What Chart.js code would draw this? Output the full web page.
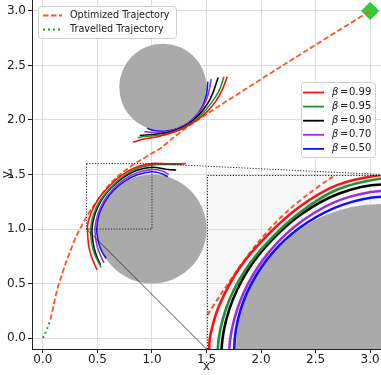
<!DOCTYPE html>
<html>
<head>
<meta charset="utf-8">
<script src="https://cdn.jsdelivr.net/npm/chart.js@4.4.1/dist/chart.umd.min.js"></script>
<style>
html,body{margin:0;padding:0;background:#fff;}
#wrap{position:relative;width:381px;height:375px;overflow:hidden;}
#inset{position:absolute;}
</style>
</head>
<body>
<div id="wrap">
  <canvas id="main" width="381" height="375"></canvas>
  <div id="inset"><canvas id="zoom"></canvas></div>
</div>
<script>
// --- Data ---
const xTicks = [0, 0.5, 1.0, 1.5, 2.0, 2.5, 3.0];
const yTicks = [0, 0.5, 1.0, 1.5, 2.0, 2.5, 3.0];
const betas = ['0.99', '0.95', '0.90', '0.70', '0.50'];
const obstacles = [[1.1, 2.3, 0.4], [1.0, 1.0, 0.5]];   // cx, cy, r
const goal = [[3.0, 3.0]];
const travelled = [[0,0],[0.02,0.04],[0.04,0.09],[0.055,0.13],[0.069,0.17]];
const optimized = [[0.069,0.17],[0.1,0.31],[0.13,0.44],[0.17,0.57],[0.21,0.69],[0.252,0.80],[0.3,0.92],
  [0.35,1.02],[0.4,1.115],[0.459,1.205],[0.517,1.29],[0.574,1.365],[0.631,1.43],[0.688,1.485],[0.75,1.535],
  [0.82,1.585],[0.9,1.635],[1.0,1.695],[1.078,1.74],[1.2,1.84],[1.35,1.955],[2.2,2.5],[3.0,3.0]];

// around the lower obstacle
const lowB99 = [[0.497,0.624],[0.447,0.742],[0.42,0.845],[0.408,1.0],[0.412,1.05],[0.442,1.15],[0.513,1.281],
  [0.608,1.392],[0.717,1.489],[0.848,1.565],[1.0,1.6],[1.1,1.6],[1.2,1.598],[1.31,1.6]];
const lowB95 = [[0.534,0.649],[0.479,0.757],[0.451,0.853],[0.437,1.0],[0.467,1.143],[0.531,1.271],[0.62,1.38],
  [0.726,1.475],[0.852,1.551],[1.0,1.588],[1.1,1.592],[1.2,1.592],[1.28,1.592]];
const lowB90 = [[0.528,0.67],[0.488,0.761],[0.463,0.856],[0.45,1.0],[0.478,1.14],[0.538,1.267],[0.624,1.376],
  [0.73,1.468],[0.856,1.536],[1.0,1.567],[1.146,1.546],[1.222,1.541]];
const lowB70 = [[0.56,0.69],[0.52,0.776],[0.492,0.864],[0.477,1.0],[0.503,1.133],[0.558,1.255],[0.638,1.362],
  [0.74,1.45],[0.862,1.515],[1.0,1.545],[1.094,1.532],[1.154,1.5]];
const lowB50 = [[0.58,0.73],[0.544,0.787],[0.512,0.869],[0.494,1.0],[0.514,1.13],[0.567,1.25],[0.646,1.354],
  [0.747,1.437],[0.867,1.497],[1.0,1.525],[1.09,1.507],[1.145,1.48]];

// around the upper obstacle
const upB99 = [[0.827,1.795],[0.87,1.81],[0.925,1.826],[0.98,1.835],[1.048,1.847],[1.17,1.878],[1.29,1.924],
  [1.415,2.0],[1.506,2.076],[1.583,2.168],[1.644,2.275],[1.674,2.352],[1.69,2.397]];
const upB95 = [[0.87,1.838],[0.94,1.85],[1.022,1.857],[1.137,1.872],[1.243,1.907],[1.34,1.958],[1.428,2.025],
  [1.493,2.091],[1.559,2.177],[1.608,2.256],[1.639,2.328],[1.659,2.397]];
const upB90 = [[0.888,1.857],[0.95,1.862],[1.023,1.867],[1.137,1.882],[1.24,1.915],[1.335,1.964],[1.418,2.033],
  [1.475,2.1],[1.53,2.185],[1.569,2.276],[1.607,2.39]];
const upB70 = [[0.931,1.893],[0.98,1.888],[1.026,1.881],[1.136,1.892],[1.239,1.919],[1.332,1.968],[1.41,2.04],
  [1.471,2.127],[1.514,2.227],[1.53,2.3],[1.543,2.376]];
const upB50 = [[0.956,1.924],[1.03,1.901],[1.135,1.899],[1.237,1.922],[1.331,1.971],[1.408,2.042],[1.465,2.13],
  [1.499,2.23],[1.508,2.3],[1.512,2.352]];

const lowCurves = [lowB99, lowB95, lowB90, lowB70, lowB50];
const upCurves = [upB99, upB95, upB90, upB70, upB50];

const zoomBox = [0.4, 1.0, 1.0, 1.6];       // x0, y0, x1, y1 of the marked region
const insetArea = [1.5, -0.1, 3.1, 1.5];    // where the inset sits, in main axes units

// --- Styles ---
const betaColors = ['#ff1010', '#1f9434', '#000000', '#9b30d6', '#1010ff'];
const optColor = '#ff5722';
const travColor = '#2a9a2a';
const FONT = 'DejaVu Sans';

function pts(a){ return a.map(p => ({x: p[0], y: p[1]})); }
function curve(label, data, color, width, dash, order){
  return {label: label, data: pts(data), showLine: true, borderColor: color, backgroundColor: color,
    borderWidth: width, borderDash: dash || [], pointRadius: 0, pointHoverRadius: 0,
    tension: 0.3, fill: false, order: order};
}

// grey obstacles, drawn under the lines
const shapes = {
  id: 'shapes',
  beforeDatasetsDraw(chart){
    const {ctx, chartArea: a, scales: {x, y}} = chart;
    ctx.save();
    ctx.beginPath(); ctx.rect(a.left, a.top, a.right - a.left, a.bottom - a.top); ctx.clip();
    ctx.fillStyle = '#aaaaaa';
    obstacles.forEach(o => {
      const px = x.getPixelForValue(o[0]), py = y.getPixelForValue(o[1]);
      const rx = x.getPixelForValue(o[0] + o[2]) - px, ry = py - y.getPixelForValue(o[1] + o[2]);
      ctx.beginPath(); ctx.ellipse(px, py, rx, ry, 0, 0, Math.PI * 2); ctx.fill();
    });
    ctx.restore();
  }
};

function roundBox(ctx, x, y, w, h, r){
  ctx.beginPath();
  ctx.moveTo(x + r, y); ctx.lineTo(x + w - r, y); ctx.quadraticCurveTo(x + w, y, x + w, y + r);
  ctx.lineTo(x + w, y + h - r); ctx.quadraticCurveTo(x + w, y + h, x + w - r, y + h);
  ctx.lineTo(x + r, y + h); ctx.quadraticCurveTo(x, y + h, x, y + h - r);
  ctx.lineTo(x, y + r); ctx.quadraticCurveTo(x, y, x + r, y);
  ctx.closePath();
}

// zoom marker, connectors and the two legends
const overlay = {
  id: 'overlay',
  afterDraw(chart){
    const {ctx, scales: {x, y}} = chart;
    const ds = chart.data.datasets;
    ctx.save();
    const bx0 = x.getPixelForValue(zoomBox[0]), by0 = y.getPixelForValue(zoomBox[1]);
    const bx1 = x.getPixelForValue(zoomBox[2]), by1 = y.getPixelForValue(zoomBox[3]);
    ctx.strokeStyle = '#222'; ctx.lineWidth = 1; ctx.setLineDash([1.2, 1.6]);
    ctx.strokeRect(bx0, by1, bx1 - bx0, by0 - by1);
    ctx.beginPath(); ctx.moveTo(bx1, by1);
    ctx.lineTo(x.getPixelForValue(insetArea[2]), y.getPixelForValue(insetArea[3])); ctx.stroke();
    ctx.setLineDash([]); ctx.lineWidth = 0.8;
    ctx.beginPath(); ctx.moveTo(bx0, by0);
    ctx.lineTo(x.getPixelForValue(insetArea[0]), y.getPixelForValue(insetArea[1])); ctx.stroke();

    // legend: trajectories
    ctx.lineWidth = 1;
    roundBox(ctx, 38.5, 6.5, 138, 32, 3);
    ctx.fillStyle = 'rgba(255,255,255,0.85)'; ctx.fill();
    ctx.strokeStyle = '#d0d0d0'; ctx.stroke();
    ctx.font = '9.6px "' + FONT + '"'; ctx.textBaseline = 'middle'; ctx.fillStyle = '#222';
    [ds[0], ds[1]].forEach((d, i) => {
      const ry = 15.5 + i * 14;
      ctx.strokeStyle = d.borderColor; ctx.lineWidth = d.borderWidth; ctx.setLineDash(d.borderDash);
      ctx.beginPath(); ctx.moveTo(43, ry); ctx.lineTo(62, ry); ctx.stroke();
      ctx.setLineDash([]);
      ctx.fillText(d.label, 70, ry);
    });

    // legend: beta values
    ctx.lineWidth = 1;
    roundBox(ctx, 301.5, 82.5, 74, 75, 3);
    ctx.fillStyle = 'rgba(255,255,255,0.85)'; ctx.fill();
    ctx.strokeStyle = '#d0d0d0'; ctx.stroke();
    betas.forEach((b, i) => {
      const ry = 92.5 + i * 14.1;
      ctx.strokeStyle = betaColors[i]; ctx.lineWidth = 1.8;
      ctx.beginPath(); ctx.moveTo(303, ry); ctx.lineTo(324, ry); ctx.stroke();
      ctx.fillStyle = '#222';
      ctx.font = 'italic 10px "' + FONT + '"'; ctx.fillText('β', 332, ry);
      ctx.font = '10px "' + FONT + '"';
      ctx.fillText('=', 340, ry); ctx.fillText(b, 349, ry);
    });
    ctx.restore();
  }
};

// --- Main chart ---
const mainSets = [
  curve('Optimized Trajectory', optimized, optColor, 1.8, [5.5, 2.5], 4),
  curve('Travelled Trajectory', travelled, travColor, 2, [2, 3], 3),
  {label: 'Goal', data: pts(goal), pointStyle: 'rectRot', pointRadius: 8.5, pointHoverRadius: 8.5,
   backgroundColor: '#33cc33', borderColor: '#2bb52b', borderWidth: 1, showLine: false, order: 5}
];
lowCurves.forEach((c, i) => mainSets.push(curve('beta ' + betas[i], c, betaColors[i], 1.6, [], 1)));
upCurves.forEach((c, i) => mainSets.push(curve('beta ' + betas[i], c, betaColors[i], 1.6, [], 1)));

const axisFont = {family: FONT, size: 12};
const mainChart = new Chart(document.getElementById('main').getContext('2d'), {
  type: 'scatter',
  data: {datasets: mainSets},
  options: {
    responsive: false, animation: false, devicePixelRatio: 1,
    layout: {padding: 0, autoPadding: false},
    plugins: {legend: {display: false}, tooltip: {enabled: false}},
    scales: {
      x: {
        type: 'linear', min: -0.1, max: 3.1,
        afterBuildTicks: s => { s.ticks = xTicks.map(v => ({value: v})); },
        afterFit: s => { s.height = 26; s.paddingLeft = 0; s.paddingRight = 0; },
        grid: {color: '#dcdcdc', lineWidth: 1, tickColor: '#222', tickLength: 4},
        border: {color: '#222', width: 1},
        ticks: {color: '#222', font: axisFont, padding: 0, maxRotation: 0, autoSkip: false,
                callback: v => v.toFixed(1)},
        title: {display: true, text: 'x', color: '#222', font: axisFont, padding: {top: 0, bottom: 1}}
      },
      y: {
        type: 'linear', min: -0.1, max: 3.1,
        afterBuildTicks: s => { s.ticks = yTicks.map(v => ({value: v})); },
        afterFit: s => { s.width = 32; s.paddingTop = 0; s.paddingBottom = 0; },
        grid: {color: '#dcdcdc', lineWidth: 1, tickColor: '#222', tickLength: 4},
        border: {color: '#222', width: 1},
        ticks: {color: '#222', font: axisFont, padding: 2, autoSkip: false,
                callback: v => v.toFixed(1)},
        title: {display: true, text: 'y', color: '#222', font: axisFont, padding: {top: 0, bottom: 0}}
      }
    }
  },
  plugins: [shapes, overlay]
});

// --- Inset (zoom of the marked region) ---
const mx = mainChart.scales.x, my = mainChart.scales.y;
const iL = Math.round(mx.getPixelForValue(insetArea[0])), iT = Math.round(my.getPixelForValue(insetArea[3]));
const iW = Math.round(mx.getPixelForValue(insetArea[2])) - iL, iH = Math.round(my.getPixelForValue(insetArea[1])) - iT;
const insetDiv = document.getElementById('inset');
insetDiv.style.left = iL + 'px'; insetDiv.style.top = iT + 'px';
const zc = document.getElementById('zoom');
zc.width = iW; zc.height = iH;

const insetFrame = {
  id: 'insetFrame',
  beforeDraw(chart){
    const {ctx, width, height} = chart;
    ctx.save(); ctx.fillStyle = 'rgba(238,238,238,0.4)'; ctx.fillRect(0, 0, width, height); ctx.restore();
  },
  afterDraw(chart){
    const {ctx, width, height} = chart;
    ctx.save(); ctx.strokeStyle = '#222'; ctx.lineWidth = 1; ctx.setLineDash([1.2, 1.6]);
    ctx.beginPath(); ctx.moveTo(0.5, height); ctx.lineTo(0.5, 0.5); ctx.lineTo(width, 0.5); ctx.stroke();
    ctx.restore();
  }
};

const insetSets = [curve('Optimized Trajectory', optimized, optColor, 2, [5, 3], 4)];
lowCurves.forEach((c, i) => insetSets.push(curve('beta ' + betas[i], c, betaColors[i], 2.6, [], 1)));

new Chart(zc.getContext('2d'), {
  type: 'scatter',
  data: {datasets: insetSets},
  options: {
    responsive: false, animation: false, devicePixelRatio: 1,
    layout: {padding: 0, autoPadding: false},
    plugins: {legend: {display: false}, tooltip: {enabled: false}},
    scales: {
      x: {type: 'linear', min: zoomBox[0], max: zoomBox[2], display: false},
      y: {type: 'linear', min: zoomBox[1], max: zoomBox[3], display: false}
    }
  },
  plugins: [insetFrame, shapes]
});
</script>
</body>
</html>
